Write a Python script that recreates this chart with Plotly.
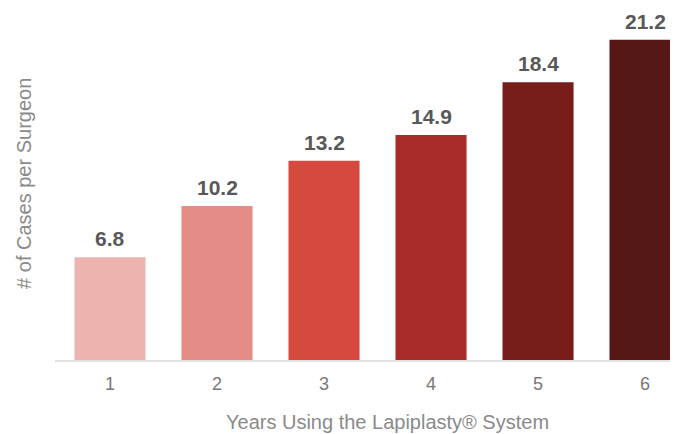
import plotly.graph_objects as go

years = ["1", "2", "3", "4", "5", "6"]
cases = [6.8, 10.2, 13.2, 14.9, 18.4, 21.2]
bar_colors = ["#EDB4AF", "#E38D86", "#D5493E", "#A82D29", "#761D1A", "#551816"]
x_title = "Years Using the Lapiplasty® System"
y_title = "# of Cases per Surgeon"

FONT = "Liberation Sans, Arial, sans-serif"

fig = go.Figure()
fig.add_trace(go.Bar(
    x=years, y=cases,
    marker=dict(color=bar_colors, line=dict(width=0)),
    hoverinfo="x+y",
))

for i, yv in enumerate(cases):
    fig.add_annotation(
        x=i, y=yv, xref="x", yref="y",
        text=f"<b>{yv:.1f}</b>", showarrow=False,
        yanchor="bottom", xanchor="center", yshift=5,
        font=dict(family=FONT, size=21, color="#585858"),
    )

fig.add_annotation(
    x=0.5337, y=-0.176, xref="paper", yref="paper",
    text=x_title, showarrow=False, xanchor="center", yanchor="middle",
    font=dict(family=FONT, size=20, color="#8a8a8a"),
)
fig.add_annotation(
    x=-0.0498, y=0.503, xref="paper", yref="paper",
    text=y_title, showarrow=False, xanchor="center", yanchor="middle",
    textangle=-90,
    font=dict(family=FONT, size=20, color="#8a8a8a"),
)

fig.update_layout(
    width=670, height=426,
    margin=dict(l=47, r=0, t=0, b=74),
    paper_bgcolor="white", plot_bgcolor="white",
    bargap=0.336,
    showlegend=False,
    font=dict(family=FONT),
)
fig.update_xaxes(
    type="category", range=[-0.514, 5.308],
    showline=True, linecolor="#e2e2e2", linewidth=2,
    showgrid=False, zeroline=False,
    ticks="outside", ticklen=6, tickcolor="rgba(0,0,0,0)",
    tickfont=dict(family=FONT, size=18, color="#777777"),
    fixedrange=True,
)
fig.update_yaxes(
    range=[0, 23.31], showticklabels=False, showgrid=False,
    zeroline=False, showline=False, fixedrange=True,
)

fig.write_html("out.html", config={"displayModeBar": False})
